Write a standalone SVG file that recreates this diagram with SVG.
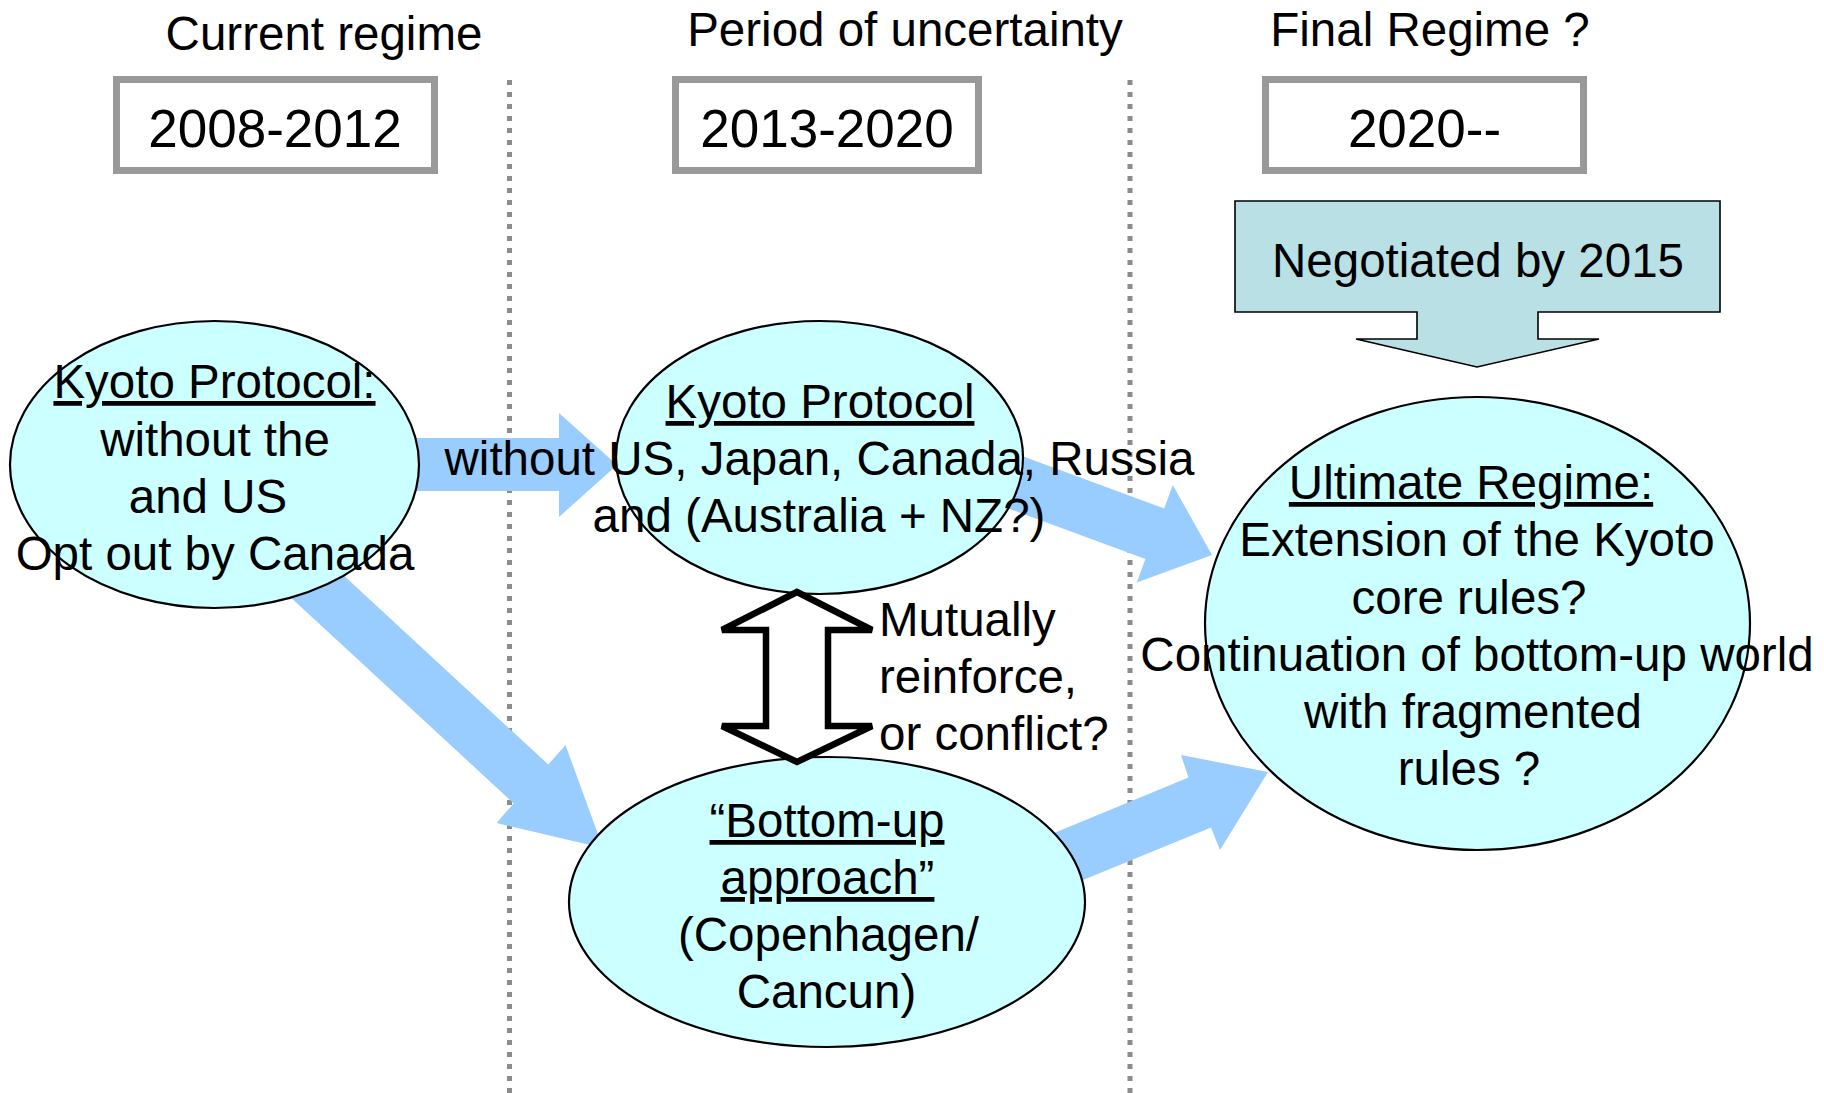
<svg xmlns="http://www.w3.org/2000/svg" width="1824" height="1093" viewBox="0 0 1824 1093">
<style>
text{font-family:"Liberation Sans",Arial,sans-serif;font-size:47.5px;fill:#000}
.c{text-anchor:middle}
.yr{font-size:53px}
.u{text-decoration:underline}
.box{fill:#fff;stroke:#999;stroke-width:7}
.ell{fill:#CCFFFF;stroke:#000;stroke-width:2.2}
.blue{fill:#99CCFF;stroke:none}
.dot{stroke:#8c8c8c;stroke-width:5;stroke-dasharray:5 7;fill:none}
</style>
<rect width="1824" height="1093" fill="#fff"/>
<g id="dividers">
<line class="dot" x1="509.5" y1="80" x2="509.5" y2="1093"/>
<line class="dot" x1="1130" y1="80" x2="1130" y2="1093"/>
</g>
<g id="connectors">
<polygon class="blue" points="400,438 559,438 559,413 617,465 559,517 559,491 400,491"/>
<polygon class="blue" points="929.7,421.7 1164.2,508.5 1172.8,485 1212,555 1136.8,582.6 1145.4,559.1 910.9,472.3"/>
<polygon class="blue" points="311.3,545.6 548.3,764.5 565.5,745 603,848 496.5,823 513.7,803.4 276.7,584.4"/>
<polygon class="blue" points="912.7,891.5 1188.5,777.5 1181,755 1268,772 1220,850 1211,827.5 933.3,941.5"/>
</g>
<g id="header-current"><text class="c" x="324" y="50">Current regime</text></g>
<g id="header-period"><text class="c" x="905" y="46">Period of uncertainty</text></g>
<g id="header-final"><text class="c" x="1430" y="46">Final Regime ?</text></g>
<g id="box-2008"><rect class="box" x="116.5" y="79.5" width="318" height="91"/><text class="c yr" x="275" y="147">2008-2012</text></g>
<g id="box-2013"><rect class="box" x="675.5" y="79.5" width="303" height="91"/><text class="c yr" x="827" y="147">2013-2020</text></g>
<g id="box-2020"><rect class="box" x="1265.5" y="79.5" width="318" height="91"/><text class="c yr" x="1424.5" y="147">2020--</text></g>
<g id="negotiated">
<polygon points="1235,201 1720,201 1720,312 1538,312 1538,339 1599,339 1477,367 1356,339 1417,339 1417,312 1235,312" fill="#B9E0E4" stroke="#000" stroke-width="1.6"/>
<text class="c" x="1478" y="277">Negotiated by 2015</text>
</g>
<g id="kyoto-current">
<ellipse class="ell" cx="214.5" cy="464.5" rx="204.5" ry="143.5"/>
<text class="c u" x="214.5" y="398">Kyoto Protocol:</text>
<text class="c" x="215" y="456">without the</text>
<text class="c" x="208" y="513">and US</text>
<text class="c" x="215" y="570">Opt out by Canada</text>
</g>
<g id="kyoto-uncertain">
<ellipse class="ell" cx="819.5" cy="457.5" rx="203.5" ry="136.5"/>
<text class="c u" x="820" y="418">Kyoto Protocol</text>
<text class="c" x="819.5" y="475">without US, Japan, Canada, Russia</text>
<text class="c" x="819" y="532">and (Australia + NZ?)</text>
</g>
<g id="bottom-up">
<ellipse class="ell" cx="827" cy="902" rx="258" ry="145"/>
<text class="c u" x="827" y="837">“Bottom-up</text>
<text class="c u" x="827.5" y="894">approach”</text>
<text class="c" x="828.5" y="951">(Copenhagen/</text>
<text class="c" x="826.5" y="1008">Cancun)</text>
</g>
<g id="ultimate">
<ellipse class="ell" cx="1477.5" cy="623.5" rx="272.5" ry="226.5"/>
<text class="c u" x="1471" y="499">Ultimate Regime:</text>
<text class="c" x="1477" y="556">Extension of the Kyoto</text>
<text class="c" x="1469" y="614">core rules?</text>
<text class="c" x="1477" y="671">Continuation of bottom-up world</text>
<text class="c" x="1473" y="728">with fragmented</text>
<text class="c" x="1469" y="785">rules ?</text>
</g>
<g id="mutual">
<polygon points="797,592 872,630 828,630 828,726 872,726 797,762 722,726 766,726 766,630 722,630" fill="#fff" stroke="#000" stroke-width="6.5" stroke-linejoin="miter"/>
<text x="879" y="636">Mutually</text>
<text x="879" y="693">reinforce,</text>
<text x="879" y="750">or conflict?</text>
</g>
</svg>
